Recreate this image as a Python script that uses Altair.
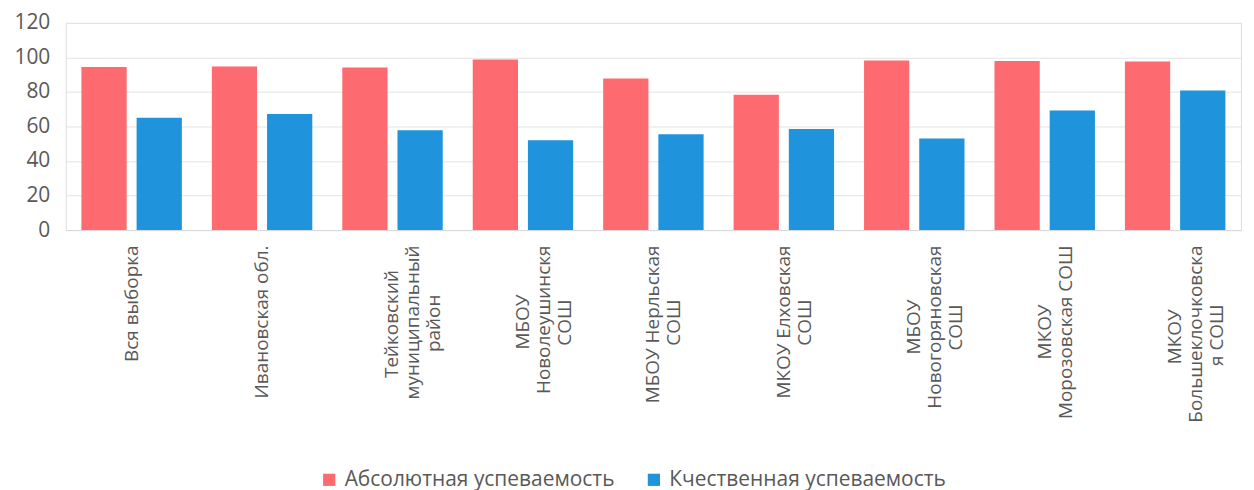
import altair as alt
import pandas as pd

categories = [
    "Вся выборка",
    "Ивановская обл.",
    "Тейковский|муниципальный|район",
    "МБОУ|Новолеушинскя|СОШ",
    "МБОУ Нерльская|СОШ",
    "МКОУ Елховская|СОШ",
    "МБОУ|Новогоряновская|СОШ",
    "МКОУ|Морозовская СОШ",
    "МКОУ|Большеклочковска|я СОШ",
]
series = ["Абсолютная успеваемость", "Кчественная успеваемость"]
absolute = [94.4, 94.8, 94.2, 98.8, 87.8, 78.4, 98.2, 98.0, 97.7]
quality = [65.1, 67.2, 57.8, 52.0, 55.5, 58.5, 53.0, 69.3, 80.9]
colors = ["#FD6A70", "#1F93DC"]
y_ticks = [0, 20, 40, 60, 80, 100, 120]

# approximate Open Sans advance widths (em) to centre the lines of each
# multi-line label the way the spreadsheet does
_w = {
    " ": 0.26, ".": 0.27, "М": 0.9, "Б": 0.6, "О": 0.78, "У": 0.55, "К": 0.6,
    "С": 0.63, "Ш": 0.99, "Т": 0.55, "И": 0.7, "В": 0.63, "Н": 0.72, "Е": 0.56,
    "а": 0.556, "б": 0.6, "в": 0.56, "г": 0.45, "д": 0.6, "е": 0.56, "з": 0.49,
    "и": 0.63, "й": 0.63, "к": 0.53, "л": 0.6, "м": 0.76, "н": 0.63, "о": 0.61,
    "п": 0.63, "р": 0.61, "с": 0.48, "т": 0.46, "у": 0.5, "х": 0.5, "ц": 0.64,
    "ч": 0.6, "ш": 0.92, "ы": 0.79, "ь": 0.55, "я": 0.55, "ю": 0.85,
}
NBSP = "\u00a0"
ZWSP = "\u200b"


def centred(label):
    lines = label.split("|")
    widths = [sum(_w.get(ch, 0.58) for ch in ln) for ln in lines]
    wmax = max(widths)
    out = []
    for ln, w in zip(lines, widths):
        n = int(round((wmax - w) / 2 / 0.26))
        out.append(ln + NBSP * n + (ZWSP if n else ""))
    return "|".join(out)


labels = [centred(c) for c in categories]

rows = []
for lab, a, q in zip(labels, absolute, quality):
    rows.append({"cat": lab, "series": series[0], "value": a})
    rows.append({"cat": lab, "series": series[1], "value": q})
df = pd.DataFrame(rows)

font = "Open Sans"
gray = "#595959"

chart = (
    alt.Chart(df)
    .mark_bar()
    .encode(
        x=alt.X(
            "cat:N",
            sort=labels,
            title=None,
            scale=alt.Scale(paddingInner=0.23, paddingOuter=0.12),
            axis=alt.Axis(
                labelAngle=-90,
                labelAlign="right",
                labelBaseline="middle",
                labelExpr="split(datum.label, '|')",
                labelFont=font,
                labelFontSize=19,
                labelColor=gray,
                labelLineHeight=21,
                labelPadding=15,
                ticks=False,
                domain=True,
                domainColor="#D9D9D9",
                labelLimit=400,
            ),
        ),
        xOffset=alt.XOffset(
            "series:N", sort=series, scale=alt.Scale(paddingInner=0.18)
        ),
        y=alt.Y(
            "value:Q",
            title=None,
            scale=alt.Scale(domain=[0, 120], nice=False),
            axis=alt.Axis(
                values=y_ticks,
                labelFont=font,
                labelFontSize=21,
                labelColor=gray,
                labelPadding=16,
                ticks=False,
                domain=False,
                gridColor="#E3E3E3",
            ),
        ),
        color=alt.Color(
            "series:N",
            sort=series,
            scale=alt.Scale(domain=series, range=colors),
            legend=alt.Legend(
                orient="none",
                legendX=254,
                legendY=448,
                direction="horizontal",
                title=None,
                symbolType="square",
                symbolSize=150,
                symbolStrokeWidth=0,
                symbolOffset=0,
                labelFont=font,
                labelFontSize=21,
                labelColor=gray,
                labelOffset=5,
                columnPadding=28,
                labelLimit=400,
            ),
        ),
    )
    .properties(width=1180, height=208, padding={"top": 3, "left": 5, "right": 5, "bottom": 0})
    .configure_view(stroke=None)
    .configure(background="white")
)

chart.save("out.html", embed_options={"renderer": "svg", "actions": False})
